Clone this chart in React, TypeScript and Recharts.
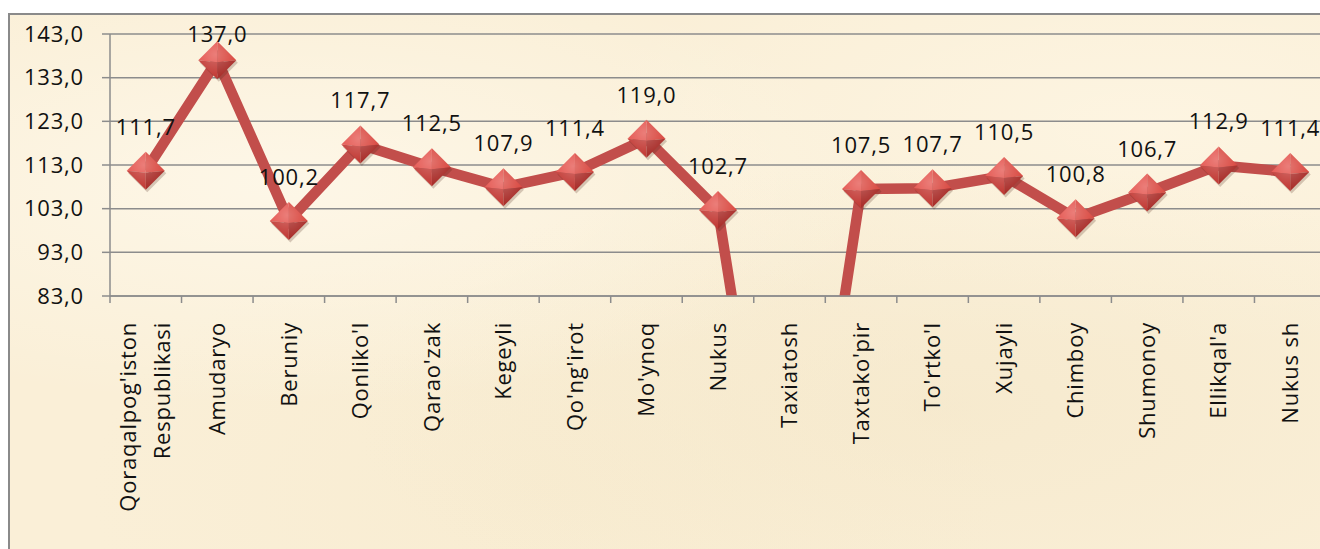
import {
  LineChart,
  Line,
  XAxis,
  YAxis,
  CartesianGrid,
  LabelList,
} from "recharts";

const categories = [
  "Qoraqalpog'iston\nRespublikasi",
  "Amudaryo",
  "Beruniy",
  "Qonliko'l",
  "Qarao'zak",
  "Kegeyli",
  "Qo'ng'irot",
  "Mo'ynoq",
  "Nukus",
  "Taxiatosh",
  "Taxtako'pir",
  "To'rtko'l",
  "Xujayli",
  "Chimboy",
  "Shumonoy",
  "Ellikqal'a",
  "Nukus sh",
];

const values = [
  111.7, 137.0, 100.2, 117.7, 112.5, 107.9, 111.4, 119.0, 102.7, 0, 107.5,
  107.7, 110.5, 100.8, 106.7, 112.9, 111.4,
];

const yTicks = [83, 93, 103, 113, 123, 133, 143];

const data = categories.map((name, i) => ({ name, value: values[i] }));

const CHART_W = 1330;
const CHART_H = 534;
const MARGIN = { top: 19, right: 14, left: 0, bottom: 0 };
const YAXIS_W = 100;
const BAND = (CHART_W - MARGIN.left - MARGIN.right - YAXIS_W) / categories.length;
const TICK_SIZE = 7;
const TICK_MARGIN = 19;
const FONT = "'Open Sans', 'Noto Sans', sans-serif";
const FONT_SIZE = 22;
const SPACING = 0.8;
const LINE_COLOR = "#C24E4B";
const AXIS_COLOR = "#8c8c8c";

const fmt = (v: number) => v.toFixed(1).replace(".", ",");

const CategoryTick = (props: any) => {
  const { x, y, payload, index } = props;
  const lines = String(payload.value).split("\n");
  const axisY = y - TICK_SIZE - TICK_MARGIN;
  const half = BAND / 2;
  const gap = 34;
  return (
    <g>
      <line
        x1={x - half}
        x2={x - half}
        y1={axisY}
        y2={axisY + TICK_SIZE}
        stroke={AXIS_COLOR}
        strokeWidth={1.5}
      />
      {index === categories.length - 1 && (
        <line
          x1={x + half}
          x2={x + half}
          y1={axisY}
          y2={axisY + TICK_SIZE}
          stroke={AXIS_COLOR}
          strokeWidth={1.5}
        />
      )}
      <text
        transform={`rotate(-90, ${x}, ${y})`}
        x={x}
        y={y}
        textAnchor="end"
        fill="#111"
        fontSize={FONT_SIZE}
        fontFamily={FONT}
        letterSpacing={SPACING}
      >
        {lines.map((l, i) => (
          <tspan
            key={i}
            x={x}
            dy={i === 0 ? FONT_SIZE * 0.35 - ((lines.length - 1) * gap) / 2 : gap}
          >
            {l}
          </tspan>
        ))}
      </text>
    </g>
  );
};

// bevelled diamond marker, like Excel's 3D style
const DiamondDot = (props: any) => {
  const { cx, cy, value } = props;
  if (value == null || value < yTicks[0] || cx == null || cy == null) return <g />;
  const r = 19;
  const pts = (s: number, dx = 0, dy = 0) =>
    `${cx + dx},${cy - s + dy} ${cx + s + dx},${cy + dy} ${cx + dx},${cy + s + dy} ${cx - s + dx},${cy + dy}`;
  const T = `${cx},${cy - r}`;
  const R = `${cx + r},${cy}`;
  const B = `${cx},${cy + r}`;
  const L = `${cx - r},${cy}`;
  const C = `${cx},${cy + 2}`;
  return (
    <g>
      <polygon points={pts(r, 1.5, 2.5)} fill="#4a2010" opacity={0.22} />
      <polygon points={`${T} ${L} ${C}`} fill="#e4534d" />
      <polygon points={`${T} ${R} ${C}`} fill="#d9473f" />
      <polygon points={`${L} ${B} ${C}`} fill="#c23a35" />
      <polygon points={`${R} ${B} ${C}`} fill="#a92e2a" />
      <polygon points={pts(r)} fill="url(#dotShine)" />
    </g>
  );
};

const ValueLabel = (props: any) => {
  const { x, y, value } = props;
  if (value == null || value < yTicks[0]) return null;
  const ty = Math.max(y - 36, MARGIN.top + 8);
  return (
    <text
      x={x}
      y={ty}
      textAnchor="middle"
      fill="#111"
      fontSize={FONT_SIZE}
      fontFamily={FONT}
      letterSpacing={SPACING}
    >
      {fmt(value)}
    </text>
  );
};

export default function App() {
  return (
    <div
      style={{
        position: "fixed",
        inset: 0,
        background: "#fff",
        overflow: "hidden",
      }}
    >
      <div
        style={{
          position: "absolute",
          left: 8,
          top: 13,
          width: 1340,
          height: 560,
          border: `2px solid #8a8a8a`,
          backgroundColor: "#FAEFD7",
          backgroundImage:
            "radial-gradient(ellipse at 20% 30%, rgba(255,250,238,0.7), transparent 40%), radial-gradient(ellipse at 70% 70%, rgba(242,228,196,0.45), transparent 45%), radial-gradient(ellipse at 85% 20%, rgba(255,248,232,0.6), transparent 35%), radial-gradient(ellipse at 40% 85%, rgba(246,233,203,0.45), transparent 40%)",
        }}
      >
        <LineChart
          width={CHART_W}
          height={CHART_H}
          data={data}
          margin={MARGIN}
          style={{ fontFamily: FONT }}
        >
          <defs>
            <radialGradient id="dotShine" cx="0.45" cy="0.35" r="0.6">
              <stop offset="0%" stopColor="#ffffff" stopOpacity={0.25} />
              <stop offset="100%" stopColor="#ffffff" stopOpacity={0} />
            </radialGradient>
          </defs>
          <CartesianGrid
            vertical={false}
            stroke={AXIS_COLOR}
            strokeWidth={1.5}
          />
          <XAxis
            dataKey="name"
            scale="band"
            interval={0}
            height={CHART_H - MARGIN.top - 262}
            axisLine={{ stroke: AXIS_COLOR, strokeWidth: 1.5 }}
            tickLine={false}
            tickSize={TICK_SIZE}
            tickMargin={TICK_MARGIN}
            tick={<CategoryTick />}
          />
          <YAxis
            width={YAXIS_W}
            domain={[yTicks[0], yTicks[yTicks.length - 1]]}
            ticks={yTicks}
            allowDataOverflow
            interval={0}
            tickFormatter={fmt}
            axisLine={{ stroke: AXIS_COLOR, strokeWidth: 1.5 }}
            tickLine={{ stroke: AXIS_COLOR, strokeWidth: 1.5 }}
            tickSize={8}
            tickMargin={18}
            tick={{
              fill: "#111",
              fontSize: FONT_SIZE,
              fontFamily: FONT,
              letterSpacing: SPACING,
            }}
          />
          <Line
            type="linear"
            dataKey="value"
            stroke={LINE_COLOR}
            strokeWidth={10.5}
            dot={<DiamondDot />}
            activeDot={false}
            isAnimationActive={false}
          >
            <LabelList dataKey="value" content={<ValueLabel />} />
          </Line>
        </LineChart>
      </div>
    </div>
  );
}
